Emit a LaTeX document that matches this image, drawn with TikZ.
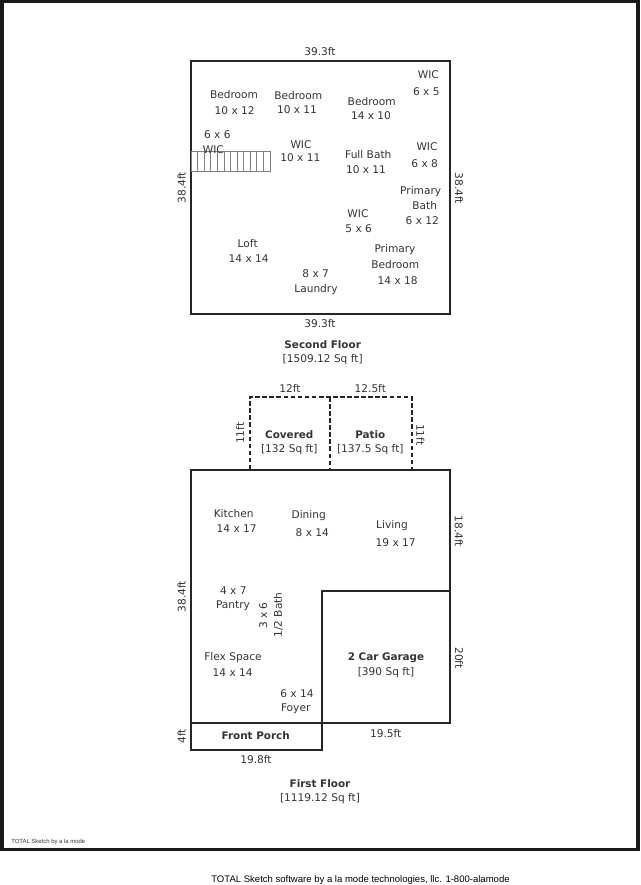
\documentclass[tikz,border=0pt]{standalone}
\usepackage{fontspec}
\setmainfont{DejaVu Sans}
\newfontfamily\footerfont{Liberation Sans}
\usetikzlibrary{positioning}
\tikzset{
	floor sketch/.style={
		x=0.75pt,
		y=-0.75pt,
		font=\fontsize{7.95}{9}\selectfont,
		text=black!80,
		every node/.style={inner sep=0pt,yshift=-0.5pt}
	},
	page frame/.style={
		draw=black!90,
		line width=2.6pt
	},
	wall/.style={
		draw=black!85,
		line width=1.5pt
	},
	open wall/.style={
		wall,
		dashed,
		dash pattern=on 3.5pt off 1.8pt
	},
	stair/.style={
		draw=black!50,
		line width=0.5pt
	},
	room label/.style={},
	area title/.style={
		font=\fontsize{7.8}{9}\selectfont\bfseries
	},
	dim up/.style={
		rotate=90
	},
	dim down/.style={
		rotate=-90
	},
	fine print/.style={
		font=\fontsize{4.45}{5}\selectfont\footerfont,
		anchor=west
	},
	footer line/.style={
		font=\fontsize{7.15}{9}\selectfont\footerfont,
		text=black
	}
}

\begin{document}
\begin{tikzpicture}[floor sketch]
		\useasboundingbox (0,0) rectangle (640,885);
		\draw[page frame] (2,1.5) rectangle (638,849.5);

		% second floor
		\draw[wall] (191,60.5) rectangle (450,314);
		\foreach \i in {0,...,12}
			\draw[stair] ({191+6.58*\i},151) -- ({191+6.58*\i},171.5);
		\draw[stair] (191,151) -- (270,151);
		\draw[stair] (191,171.5) -- (270,171.5);

		\node (top width) at (320,51) {39.3ft};
		\node (bottom width) at (320,323.3) {39.3ft};
		\node[dim up] (left depth) at (181.7,187) {38.4ft};
		\node[dim down] (right depth) at (459,187.7) {38.4ft};

		\node[room label] (bed a) at (234,94) {Bedroom};
		\node[room label] (bed a size) at (234.7,110) {10 x 12};
		\node[room label] (bed b) at (298.3,94.7) {Bedroom};
		\node[room label] (bed b size) at (297,109.3) {10 x 11};
		\node[room label] (bed c) at (371.7,101) {Bedroom};
		\node[room label] (bed c size) at (371,114.7) {14 x 10};
		\node[room label] (wic a) at (428.3,74) {WIC};
		\node[room label] (wic a size) at (426.3,91) {6 x 5};
		\node[room label] (wic b size) at (217.3,133.7) {6 x 6};
		\node[room label] (wic b) at (213.3,149) {WIC};
		\node[room label] (wic c) at (301,144.3) {WIC};
		\node[room label] (wic c size) at (300.3,157.3) {10 x 11};
		\node[room label] (full bath) at (368.3,154) {Full Bath};
		\node[room label] (full bath size) at (366,168.7) {10 x 11};
		\node[room label] (wic d) at (427,145.7) {WIC};
		\node[room label] (wic d size) at (424.7,163) {6 x 8};
		\node[room label] (primary bath a) at (420.7,190.7) {Primary};
		\node[room label] (primary bath b) at (424.7,204.7) {Bath};
		\node[room label] (primary bath size) at (422.3,219.7) {6 x 12};
		\node[room label] (wic e) at (358,212.7) {WIC};
		\node[room label] (wic e size) at (358.7,228.3) {5 x 6};
		\node[room label] (loft) at (247.7,242.7) {Loft};
		\node[room label] (loft size) at (248.7,258.3) {14 x 14};
		\node[room label] (laundry size) at (315.7,272.7) {8 x 7};
		\node[room label] (laundry) at (316,289.3) {Laundry};
		\node[room label] (primary bed a) at (395,249.3) {Primary};
		\node[room label] (primary bed b) at (395.3,264) {Bedroom};
		\node[room label] (primary bed size) at (397.7,280) {14 x 18};

		\node[area title] (second floor) at (322.7,344) {Second Floor};
		\node (second floor area) at (322.7,359.3) {[1509.12 Sq ft]};

		% patio
		\draw[open wall] (250,469.5) -- (250,397) -- (411.5,397) -- (411.5,469.5);
		\draw[open wall] (329.5,397) -- (329.5,469.5);

		\node (covered width) at (290,388) {12ft};
		\node (patio width) at (370.3,388) {12.5ft};
		\node[dim up] (covered depth) at (240,432.7) {11ft};
		\node[dim down] (patio depth) at (420.3,434) {11ft};
		\node[area title] (covered) at (289.3,433.7) {Covered};
		\node (covered area) at (289.3,448.7) {[132 Sq ft]};
		\node[area title] (patio) at (370.3,433.7) {Patio};
		\node (patio area) at (370.3,448.7) {[137.5 Sq ft]};

		% first floor
		\draw[wall] (191,723) -- (191,469.5) -- (450,469.5) -- (450,723) -- cycle;
		\draw[wall] (191,723) -- (191,749.5) -- (321.5,749.5) -- (321.5,591) -- (450,591);

		\node[room label] (kitchen) at (233.7,513) {Kitchen};
		\node[room label] (kitchen size) at (236.7,528) {14 x 17};
		\node[room label] (dining) at (308.7,515.3) {Dining};
		\node[room label] (dining size) at (312.3,531.7) {8 x 14};
		\node[room label] (living) at (392,524.7) {Living};
		\node[room label] (living size) at (395.7,542.3) {19 x 17};
		\node[room label] (pantry size) at (233.3,590) {4 x 7};
		\node[room label] (pantry) at (233,604.7) {Pantry};
		\node[room label,dim up] (half bath size) at (263.3,615) {3 x 6};
		\node[room label,dim up] (half bath) at (278.3,614.3) {1/2 Bath};
		\node[room label] (flex) at (233,657) {Flex Space};
		\node[room label] (flex size) at (232.7,672.3) {14 x 14};
		\node[room label] (foyer size) at (297,692.7) {6 x 14};
		\node[room label] (foyer) at (295.7,707.7) {Foyer};

		\node[area title] (garage) at (386,657.3) {2 Car Garage};
		\node (garage area) at (386,672) {[390 Sq ft]};
		\node[area title] (porch) at (255.7,735) {Front Porch};

		\node[dim down] (living depth) at (458.7,530.7) {18.4ft};
		\node[dim up] (house depth) at (181.7,596) {38.4ft};
		\node[dim down] (garage depth) at (459,657.3) {20ft};
		\node[dim up] (porch depth) at (181.7,735.7) {4ft};
		\node (garage width) at (385.7,732.7) {19.5ft};
		\node (porch width) at (256,759) {19.8ft};

		\node[area title] (first floor) at (320,782.7) {First Floor};
		\node (first floor area) at (320,797.7) {[1119.12 Sq ft]};

		% footers
		\node[fine print] (sketch mark) at (11,841) {TOTAL Sketch by a la mode};
		\node[footer line] (sketch credit) at (360.5,879) {TOTAL Sketch software by a la mode technologies, llc. 1-800-alamode};
	\end{tikzpicture}
\end{document}
